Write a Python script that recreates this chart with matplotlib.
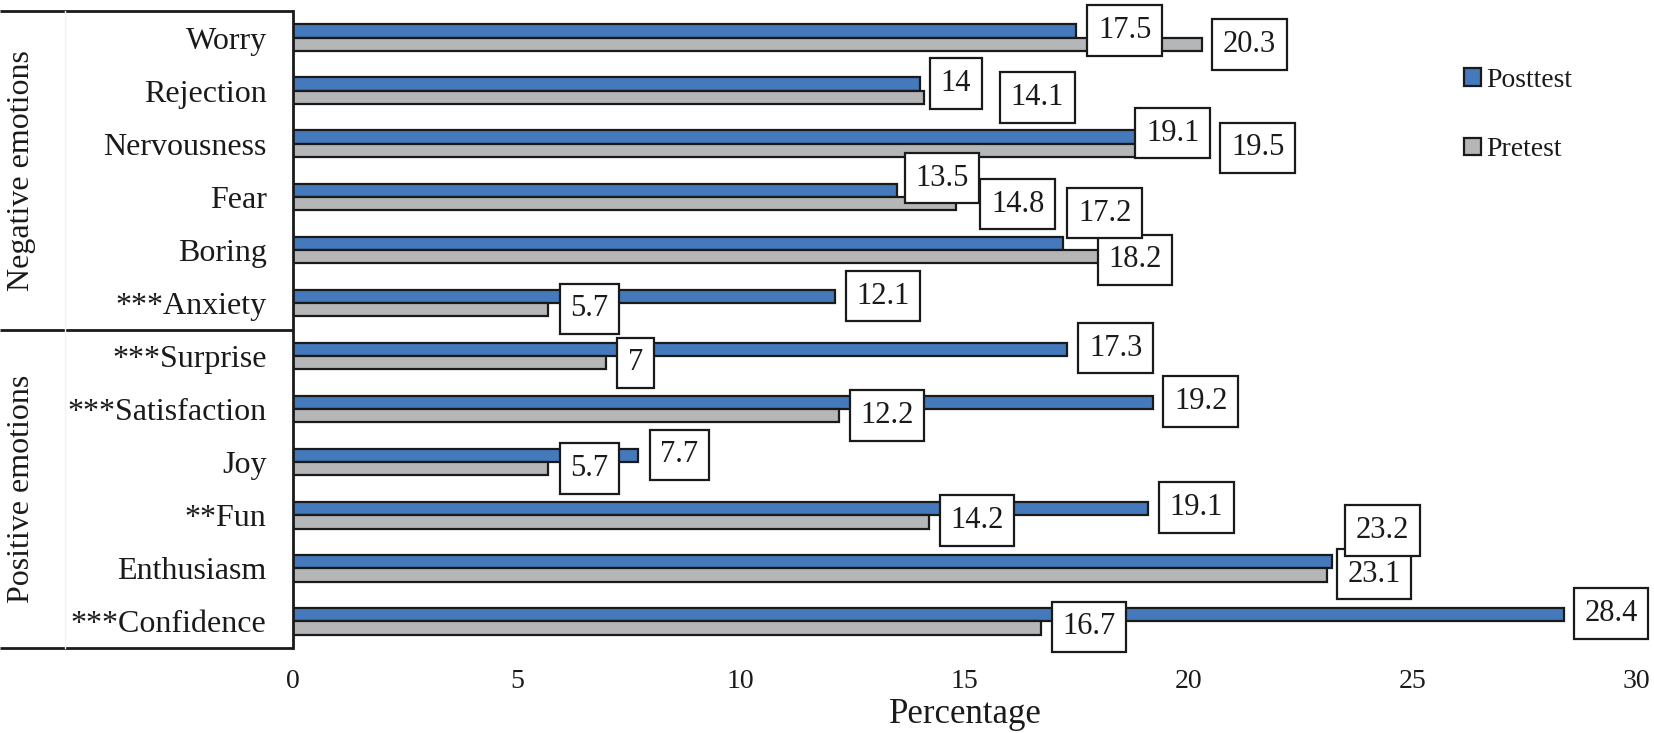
import matplotlib
matplotlib.use("Agg")
import matplotlib.pyplot as plt
import matplotlib.transforms as mtransforms
from matplotlib.patches import Patch
import numpy as np

plt.rcParams['font.family'] = ['Liberation Serif', 'DejaVu Serif']

categories = ["Worry", "Rejection", "Nervousness", "Fear", "Boring", "***Anxiety",
              "***Surprise", "***Satisfaction", "Joy", "**Fun", "Enthusiasm", "***Confidence"]
posttest = [17.5, 14, 19.1, 13.5, 17.2, 12.1, 17.3, 19.2, 7.7, 19.1, 23.2, 28.4]
pretest = [20.3, 14.1, 19.5, 14.8, 18.2, 5.7, 7, 12.2, 5.7, 14.2, 23.1, 16.7]
groups = ["Negative emotions", "Positive emotions"]
xticks = [0, 5, 10, 15, 20, 25, 30]

# label placement (positions of annotation boxes, data x and category offset)
post_lab_x = [18.58, 14.81, 19.65, 14.5, 18.13, 13.18, 18.38, 20.28, 8.63, 20.18, 24.33, 29.44]
post_lab_dy = [-0.13, -0.135, -0.2, -0.35, -0.69, -0.13, -0.15, -0.14, -0.14, -0.15, -0.71, -0.15]
pre_lab_x = [21.37, 16.63, 21.55, 16.19, 18.81, 6.62, 7.65, 13.27, 6.62, 15.28, 24.15, 17.78]
pre_lab_dy = [0.13, 0.13, 0.08, 0.14, 0.19, 0.11, 0.13, 0.12, 0.12, 0.10, 0.11, 0.10]

BLUE = "#4479BC"
GRAY = "#B4B6B8"
W, H = 1654, 733

fig = plt.figure(figsize=(W / 100, H / 100), dpi=100)
ax = fig.add_axes([293 / W, 1 - 648 / H, (1636 - 293) / W, (648 - 11) / H])

y = np.arange(len(categories))
bh = 0.25
ax.barh(y - bh / 2, posttest, height=bh, color=BLUE, edgecolor="#1a1a1a", linewidth=1.6, label="Posttest", zorder=2)
ax.barh(y + bh / 2, pretest, height=bh, color=GRAY, edgecolor="#1a1a1a", linewidth=1.6, label="Pretest", zorder=2)

def fmt(v):
    return ("%g" % v)

bbox = dict(boxstyle="square,pad=0.35", fc="white", ec="#1a1a1a", lw=1.6)
for i in range(len(categories)):
    ax.text(post_lab_x[i], i + post_lab_dy[i], fmt(posttest[i]), ha="center", va="center",
            fontsize=22, color="#1a1a1a", bbox=bbox, zorder=5, clip_on=False)
    ax.text(pre_lab_x[i], i + pre_lab_dy[i], fmt(pretest[i]), ha="center", va="center",
            fontsize=22, color="#1a1a1a", bbox=bbox, zorder=4, clip_on=False)

ax.set_xlim(0, 30)
ax.set_ylim(len(categories) - 0.5, -0.5)
ax.set_yticks(y)
ax.set_yticklabels(categories, fontsize=23, color="#1a1a1a")
ax.set_xticks(xticks)
ax.set_xticklabels([str(t) for t in xticks], fontsize=20, color="#1a1a1a")
ax.tick_params(axis="y", length=0, pad=19)
ax.tick_params(axis="x", length=0, pad=15)
for s in ["top", "right", "bottom"]:
    ax.spines[s].set_visible(False)
ax.spines["left"].set_linewidth(2)
ax.spines["left"].set_color("#1a1a1a")

fig.text(965 / W, 1 - 723 / H, "Percentage", ha="center", va="baseline", fontsize=25, color="#1a1a1a")

# left group box
tr = mtransforms.blended_transform_factory(fig.transFigure, ax.transData)
for yy in [-0.5, 5.5, 11.5]:
    ax.plot([0, 293 / W], [yy, yy], transform=tr, color="#1a1a1a", lw=2, clip_on=False, solid_capstyle="butt")
ax.plot([65 / W, 65 / W], [-0.5, 11.5], transform=tr, color="#f3f3f3", lw=1, clip_on=False)
ax.text(22 / W, 2.5, groups[0], transform=tr, rotation=90, ha="center", va="center", fontsize=23, color="#1a1a1a")
ax.text(22 / W, 8.5, groups[1], transform=tr, rotation=90, ha="center", va="center", fontsize=23, color="#1a1a1a")

handles = [Patch(facecolor=BLUE, edgecolor="#1a1a1a", linewidth=1.6, label="Posttest"),
           Patch(facecolor=GRAY, edgecolor="#1a1a1a", linewidth=1.6, label="Pretest")]
leg = ax.legend(handles=handles, loc="upper left", bbox_to_anchor=(1464 / W, 1 - 68 / H),
                bbox_transform=fig.transFigure, frameon=False, fontsize=20,
                handlelength=0.6, handleheight=0.6, handletextpad=0.2, labelspacing=1.6,
                borderpad=0, borderaxespad=0)
for t in leg.get_texts():
    t.set_color("#1a1a1a")

fig.savefig("out.png", dpi=100)
